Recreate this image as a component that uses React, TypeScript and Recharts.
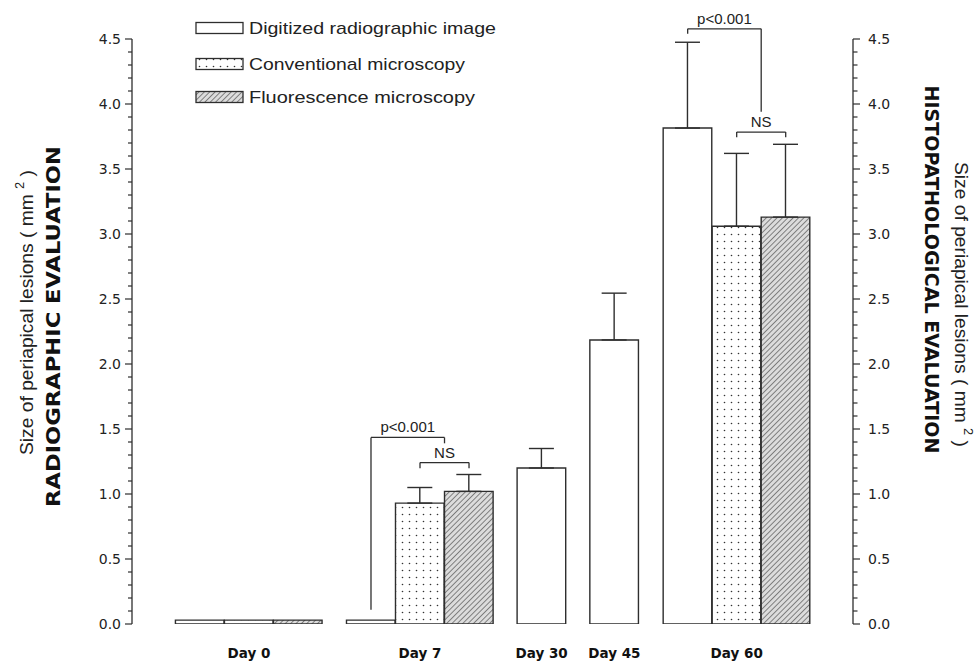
import React from "react";
import { BarChart, Bar, XAxis, YAxis, ErrorBar, Cell, ReferenceLine } from "recharts";

const days = ["Day 0", "Day 7", "Day 30", "Day 45", "Day 60"];
const methods = ["Digitized radiographic image", "Conventional microscopy", "Fluorescence microscopy"];

// mean lesion size (mm²); null = not measured that day
const digitized: (number | null)[] = [0.03, 0.03, 1.2, 2.185, 3.815];
const conventional: (number | null)[] = [0.03, 0.93, null, null, 3.06];
const fluorescence: (number | null)[] = [0.03, 1.02, null, null, 3.13];

// upper error (SD)
const digitizedSd: (number | null)[] = [null, null, 0.15, 0.36, 0.66];
const conventionalSd: (number | null)[] = [null, 0.12, null, null, 0.56];
const fluorescenceSd: (number | null)[] = [null, 0.13, null, null, 0.56];

const yMajor = [0, 0.5, 1, 1.5, 2, 2.5, 3, 3.5, 4, 4.5];
const yTicks = Array.from({ length: 46 }, (_, i) => i / 10);

// significance brackets (slots counted in bar widths inside the group)
const brackets = [
  { text: "p<0.001", group: 1, from: 0.5, to: 2, y: 1.435, leftEnd: 0.11, rightEnd: 1.39 },
  { text: "NS", group: 1, from: 1.5, to: 2.5, y: 1.242, leftEnd: 1.198, rightEnd: 1.198 },
  { text: "p<0.001", group: 4, from: 0.5, to: 2, y: 4.578, leftEnd: 4.54, rightEnd: 3.94 },
  { text: "NS", group: 4, from: 1.5, to: 2.5, y: 3.784, leftEnd: 3.745, rightEnd: 3.745 },
];

// the x axis is irregular: left edge of each group, in bar widths from the left axis
const groupStart = [0.886, 4.376, 7.857, 9.341, 10.837];
const X_END = 14.71;

const series = [digitized, conventional, fluorescence];
const errors = [digitizedSd, conventionalSd, fluorescenceSd];
const fills = ["#ffffff", "url(#dots)", "url(#hatch)"];

const rows = days.flatMap((day, g) =>
  series
    .map((s, m) => ({ m, v: s[g], e: errors[m][g] }))
    .filter((r) => r.v != null)
    .map((r, k) => ({
      day,
      method: r.m,
      pos: groupStart[g] + k + 0.5,
      value: r.v,
      err: r.e == null ? undefined : [0, r.e],
    }))
);
const dayTicks = days.map((d, g) => groupStart[g] + rows.filter((r) => r.day === d).length / 2);

const INK = "#2e2e2e";
const SANS = "'Liberation Sans', Arial, sans-serif";
const VERA = "'DejaVu Sans', Verdana, sans-serif";

const isMajor = (v: number) => yMajor.some((m) => Math.abs(m - v) < 1e-6);

function LeftTick({ x, y, payload }: any) {
  const major = isMajor(payload.value);
  return (
    <g>
      <line x1={x - (major ? 7 : 4)} x2={x} y1={y} y2={y} stroke={INK} strokeWidth={1.2} />
      {major && (
        <text x={x - 11} y={y} dy="0.36em" textAnchor="end" fontFamily={VERA} fontSize={14} fill="#222">
          {payload.value.toFixed(1)}
        </text>
      )}
    </g>
  );
}

function RightTick({ x, y, payload }: any) {
  const major = isMajor(payload.value);
  return (
    <g>
      <line x1={x} x2={x + (major ? 7 : 4.5)} y1={y} y2={y} stroke={INK} strokeWidth={1.2} />
      {major && (
        <text x={x + 15} y={y} dy="0.36em" textAnchor="start" fontFamily={VERA} fontSize={14} fill="#222">
          {payload.value.toFixed(1)}
        </text>
      )}
    </g>
  );
}

function DayTick({ x, y, index }: any) {
  return (
    <text x={x} y={y + 34} textAnchor="middle" fontFamily={VERA} fontWeight="bold" fontSize={13.5} fill="#111">
      {days[index]}
    </text>
  );
}

function SizeLine({ x, y, rot }: { x: number; y: number; rot: number }) {
  return (
    <text
      x={x}
      y={y}
      transform={`rotate(${rot}, ${x}, ${y})`}
      textAnchor="middle"
      dominantBaseline="central"
      fontFamily={SANS}
      fontSize={18}
      fill="#222"
      textLength={285}
      lengthAdjust="spacingAndGlyphs"
    >
      Size of periapical lesions ( mm <tspan dy={-7} fontSize={12}>2</tspan>
      <tspan dy={7}> )</tspan>
    </text>
  );
}

function LeftTitle({ viewBox }: any) {
  const cy = viewBox.y + viewBox.height / 2;
  return (
    <g>
      <SizeLine x={27} y={cy - 19} rot={-90} />
      <text
        x={53}
        y={cy - 5}
        transform={`rotate(-90, 53, ${cy - 5})`}
        textAnchor="middle"
        dominantBaseline="central"
        fontFamily={VERA}
        fontWeight="bold"
        fontSize={20}
        fill="#111"
        textLength={361}
        lengthAdjust="spacingAndGlyphs"
      >
        RADIOGRAPHIC EVALUATION
      </text>
    </g>
  );
}

function RightTitle({ viewBox }: any) {
  const cy = viewBox.y + viewBox.height / 2;
  return (
    <g>
      <SizeLine x={961} y={cy - 27} rot={90} />
      <text
        x={932}
        y={cy - 62}
        transform={`rotate(90, 932, ${cy - 62})`}
        textAnchor="middle"
        dominantBaseline="central"
        fontFamily={VERA}
        fontWeight="bold"
        fontSize={20}
        fill="#111"
        textLength={368}
        lengthAdjust="spacingAndGlyphs"
      >
        HISTOPATHOLOGICAL EVALUATION
      </text>
    </g>
  );
}

function Patterns({ suffix = "" }: { suffix?: string }) {
  return (
    <defs>
      <pattern id={`dots${suffix}`} width="7" height="7" patternUnits="userSpaceOnUse">
        <rect width="7" height="7" fill="#ffffff" />
        <circle cx="3.5" cy="3.5" r="0.8" fill="#333" />
      </pattern>
      <pattern id={`hatch${suffix}`} width="3.8" height="6" patternUnits="userSpaceOnUse" patternTransform="rotate(45)">
        <rect width="3.8" height="6" fill="#dcdcdc" />
        <line x1="0" y1="0" x2="0" y2="6" stroke="#333" strokeWidth="1.1" />
      </pattern>
    </defs>
  );
}

function LegendBox() {
  const rowsY = [28, 64, 97];
  const lens = [247, 216, 226];
  const legendFills = ["#ffffff", "url(#dotsL)", "url(#hatchL)"];
  return (
    <svg width={520} height={115} style={{ position: "absolute", left: 0, top: 0, pointerEvents: "none" }}>
      <Patterns suffix="L" />
      {methods.map((m, i) => (
        <g key={m}>
          <rect x={196} y={rowsY[i] - 5.5} width={47} height={11} fill={legendFills[i]} stroke={INK} strokeWidth={1.3} />
          <text
            x={249}
            y={rowsY[i] + 6}
            fontFamily={SANS}
            fontSize={17}
            fill="#222"
            textLength={lens[i]}
            lengthAdjust="spacingAndGlyphs"
          >
            {m}
          </text>
        </g>
      ))}
    </svg>
  );
}

export default function App() {
  const bx = (b: (typeof brackets)[number]) => [groupStart[b.group] + b.from, groupStart[b.group] + b.to];
  return (
    <div style={{ position: "absolute", left: 0, top: 0, width: 974, height: 661, background: "#fff" }}>
      <BarChart width={974} height={661} data={rows} margin={{ top: 39, right: 0, bottom: 0, left: 0 }}>
        <Patterns />
        <XAxis
          type="number"
          dataKey="pos"
          domain={[0, X_END]}
          allowDataOverflow
          ticks={dayTicks}
          interval={0}
          tick={<DayTick />}
          tickSize={0}
          tickMargin={0}
          axisLine={false}
          tickLine={false}
          height={37}
        />
        <YAxis
          yAxisId="left"
          domain={[0, 4.5]}
          allowDataOverflow
          ticks={yTicks}
          interval={0}
          tick={<LeftTick />}
          tickSize={0}
          tickMargin={0}
          tickLine={false}
          axisLine={{ stroke: INK, strokeWidth: 1.3 }}
          width={132}
          label={<LeftTitle />}
        />
        <YAxis
          yAxisId="right"
          orientation="right"
          domain={[0, 4.5]}
          allowDataOverflow
          ticks={yTicks}
          interval={0}
          tick={<RightTick />}
          tickSize={0}
          tickMargin={0}
          tickLine={false}
          axisLine={{ stroke: INK, strokeWidth: 1.3 }}
          width={121}
          label={<RightTitle />}
        />
        <Bar
          yAxisId="left"
          dataKey="value"
          barSize={48.6}
          stroke={INK}
          strokeWidth={1.4}
          isAnimationActive={false}
        >
          {rows.map((r, i) => (
            <Cell key={i} fill={fills[r.method]} />
          ))}
          <ErrorBar dataKey="err" width={12.5} stroke={INK} strokeWidth={1.4} isAnimationActive={false} />
        </Bar>
        {brackets.flatMap((b, i) => {
          const [x1, x2] = bx(b);
          const common = { yAxisId: "left", stroke: INK, strokeWidth: 1.3, ifOverflow: "visible" as const };
          return [
            <ReferenceLine key={`l${i}`} {...common} segment={[{ x: x1, y: b.leftEnd }, { x: x1, y: b.y }]} />,
            <ReferenceLine
              key={`t${i}`}
              {...common}
              segment={[{ x: x1, y: b.y }, { x: x2, y: b.y }]}
              label={{ value: b.text, position: "top", offset: 5, fontSize: 15, fontFamily: SANS, fill: "#222" }}
            />,
            <ReferenceLine key={`r${i}`} {...common} segment={[{ x: x2, y: b.y }, { x: x2, y: b.rightEnd }]} />,
          ];
        })}
      </BarChart>
      <LegendBox />
    </div>
  );
}
